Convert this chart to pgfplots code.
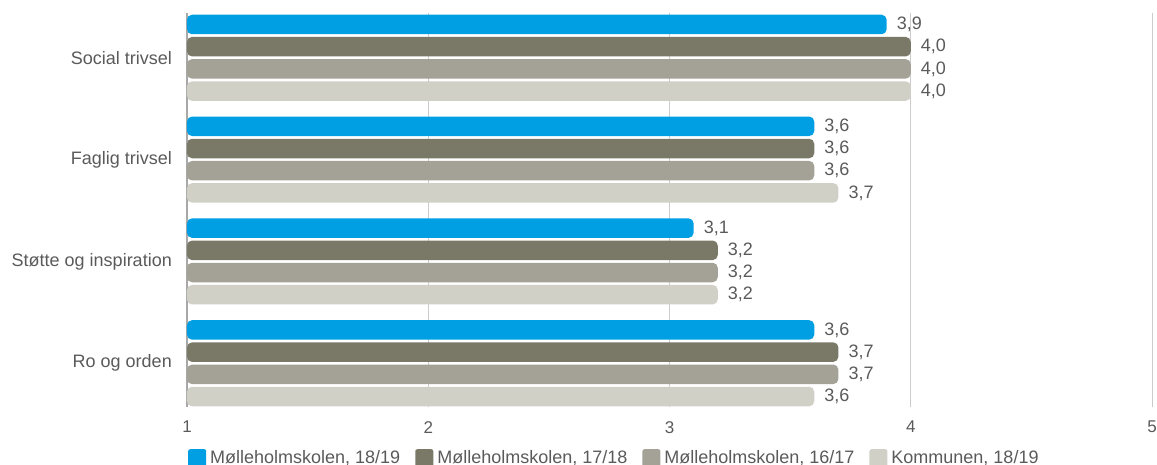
\documentclass[border=0pt]{standalone}
\usepackage{pgfplots}
\pgfplotsset{compat=1.18}
\usepackage{fontspec}
\setmainfont{Liberation Sans}
\definecolor{cblue}{HTML}{009FE3}
\definecolor{cdark}{HTML}{7A7968}
\definecolor{cmid}{HTML}{A4A296}
\definecolor{clight}{HTML}{D0D0C7}
\definecolor{ctext}{HTML}{5A5A5A}
\definecolor{cgrid}{HTML}{CCCCCC}
\definecolor{cleft}{HTML}{A8A8A8}
\begin{document}
\begin{tikzpicture}
\useasboundingbox (-187bp,-58bp) rectangle (970bp,407bp);
\begin{axis}[
  at={(0,0)}, anchor=south west,
  scale only axis, width=965bp, height=394bp,
  xbar, bar width=19.5bp,
  xmin=1, xmax=5, ymin=-0.43, ymax=3.44,
  xtick={2,3,4,5},
  extra x ticks={1},
  extra x tick style={grid style={draw=cleft, line width=1.6bp}},
  xmajorgrids, grid style={draw=cgrid, line width=1bp},
  ytick={0,1,2,3},
  yticklabels={Ro og orden, Støtte og inspiration, Faglig trivsel, Social trivsel},
  axis line style={draw=none}, major tick length=0pt,
  /pgf/number format/assume math mode=true,
  xticklabel={\fontsize{17bp}{19bp}\selectfont\pgfmathprintnumber[assume math mode=true]{\tick}},
  yticklabel style={font=\fontsize{18bp}{20bp}\selectfont, text=ctext, inner sep=0pt, xshift=-15bp},
  xticklabel style={text=ctext, inner sep=0pt, yshift=-14bp},
  point meta=x,
  nodes near coords={\pgfmathprintnumber[fixed,fixed zerofill,precision=1,use comma,assume math mode=true]{\pgfplotspointmeta}},
  every node near coord/.append style={font=\fontsize{18bp}{20bp}\selectfont, text=ctext, anchor=west, inner sep=0pt, xshift=10bp},
  legend style={at={(rel axis cs:0,0)}, anchor=north west, xshift=1bp, yshift=-42bp,
    draw=none, fill=none, inner sep=0pt, legend columns=4,
    font=\fontsize{18bp}{20bp}\selectfont, text=ctext,
    nodes={inner sep=0pt},
    /tikz/every odd column/.append style={column sep=4bp},
    /tikz/every even column/.append style={column sep=15bp}},
  legend image code/.code={\fill[#1, draw=none, rounded corners=2bp] (0bp,-9bp) rectangle (18bp,9bp);},
]
\addplot[fill=cblue, draw=none, rounded corners=5bp, bar shift=33.3bp] coordinates {(3.9,3) (3.6,2) (3.1,1) (3.6,0)};
\addplot[fill=cdark, draw=none, rounded corners=5bp, bar shift=11.1bp] coordinates {(4.0,3) (3.6,2) (3.2,1) (3.7,0)};
\addplot[fill=cmid, draw=none, rounded corners=5bp, bar shift=-11.1bp] coordinates {(4.0,3) (3.6,2) (3.2,1) (3.7,0)};
\addplot[fill=clight, draw=none, rounded corners=5bp, bar shift=-33.3bp] coordinates {(4.0,3) (3.7,2) (3.2,1) (3.6,0)};
\legend{{Mølleholmskolen, 18/19}, {Mølleholmskolen, 17/18}, {Mølleholmskolen, 16/17}, {Kommunen, 18/19}}
\end{axis}
\end{tikzpicture}
\end{document}
